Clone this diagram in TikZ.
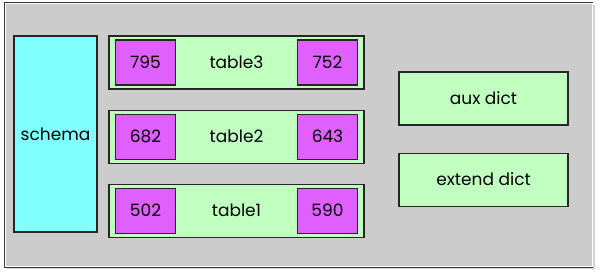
\documentclass[tikz,border=0pt]{standalone}
\usepackage{fontspec}
\setmainfont{Poppins}
\usetikzlibrary{positioning,shadows}
\definecolor{panelcol}{RGB}{204,204,204}
\definecolor{schemacol}{RGB}{128,255,255}
\definecolor{tablecol}{RGB}{192,255,192}
\definecolor{idcol}{RGB}{224,96,255}
\tikzset{
  box/.style     ={rectangle, draw=black!85, line width=1.1pt, inner sep=0pt,
                   align=center, font=\fontsize{17}{20}\selectfont},
  schemabox/.style={box, fill=schemacol, minimum width=83pt, minimum height=196pt},
  tablebox/.style={box, fill=tablecol, minimum width=255pt, minimum height=53pt},
  idbox/.style   ={box, fill=idcol, minimum width=60pt, minimum height=45pt},
  dictbox/.style ={box, fill=tablecol, minimum width=169pt, minimum height=53pt},
}
\begin{document}
\begin{tikzpicture}[x=1pt, y=-1pt]
    \useasboundingbox (0,0) rectangle (601,278);
    % panel
    \node[rectangle, draw=black!80, line width=1.4pt, fill=panelcol,
          minimum width=588pt, minimum height=264pt, inner sep=0pt,
          drop shadow={shadow xshift=2pt, shadow yshift=-2pt, opacity=0.35}]
          (panel) at (298.75,135) {};
    \draw[white, line width=0.4pt] ([shift={(1.2pt,-1.2pt)}]panel.north west)
          rectangle ([shift={(-1.2pt,1.2pt)}]panel.south east);

    \node[schemabox] (schema) at (55.5,134) {schema};

    \node[tablebox] (t3) at (236.5,62.5) {table3};
    \node[tablebox, below=20pt of t3] (t2) {table2};
    \node[tablebox, below=20pt of t2] (t1) {table1};

    \node[idbox, right=6.5pt of t3.west] (t3a) {795};
    \node[idbox, left=6.5pt of t3.east]  (t3b) {752};
    \node[idbox, right=6.5pt of t2.west] (t2a) {682};
    \node[idbox, left=6.5pt of t2.east]  (t2b) {643};
    \node[idbox, right=6.5pt of t1.west] (t1a) {502};
    \node[idbox, left=6.5pt of t1.east]  (t1b) {590};

    \node[dictbox] (aux) at (483.5,98.5) {aux dict};
    \node[dictbox, below=27pt of aux] (ext) {extend dict};
  \end{tikzpicture}
\end{document}
